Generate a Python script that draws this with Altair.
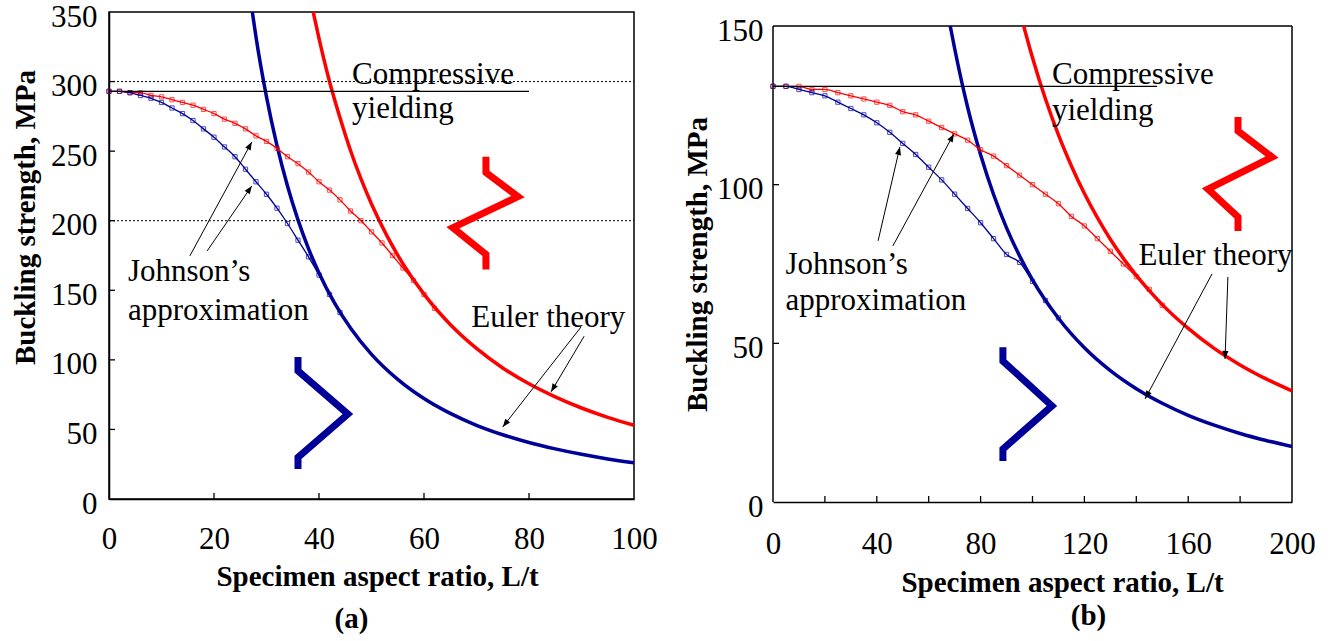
import math
import altair as alt
import pandas as pd

FONT = "Liberation Serif"
RED = "#ff0000"
BLUE = "#000099"

# ---------------- panel (a) data ----------------
A_JR_X = [0, 2, 4, 6, 8, 10, 12, 14, 16, 18, 20, 22, 24, 26, 28, 30, 32, 34, 36, 38,
          40, 42, 44, 46, 48, 50, 52, 54, 56, 58, 60, 62]
A_JR_Y = [293, 293, 292, 292, 290, 289, 287, 285, 283, 280, 277, 273, 270, 266, 261, 257,
          252, 246, 241, 235, 228, 222, 215, 207, 200, 192, 184, 175, 166, 157, 147, 137]
A_JB_X = [0, 2, 4, 6, 8, 10, 12, 14, 16, 18, 20, 22, 24, 26, 28, 30, 32, 34, 36, 38, 40, 42, 44]
A_JB_Y = [293, 293, 292, 290, 288, 285, 281, 277, 272, 266, 260, 253, 246, 237, 228, 219,
          209, 198, 186, 174, 161, 147, 134]
A_ER_X = [38.9, 40, 42, 44, 46, 48, 50, 53, 56, 60, 65, 70, 75, 80, 85, 90, 95, 100]
A_ER_Y = [350, 331, 300, 274, 250.5, 230, 212, 188.7, 169, 147.2, 125.4, 108.2, 94.2, 82.8,
          73.4, 65.4, 58.7, 53]
A_EB_X = [27.3, 28, 30, 32, 34, 36, 38, 40, 43, 46, 50, 55, 60, 65, 70, 75, 80, 85, 90, 95, 100]
A_EB_Y = [350, 332, 289, 254, 225, 200.6, 180, 162.5, 140.6, 122.9, 104, 86, 72.2, 61.5, 53,
          46.2, 40.6, 36, 32.1, 28.8, 26]
A_YIELD = [0, 80, 293]            # x from, x to, stress
A_DOTTED = [300, 200]
A_RED_CHEV_X = [71.8, 71.8, 77.9, 65.5, 71.8, 71.8]
A_RED_CHEV_Y = [246, 234.6, 217.4, 195, 175.8, 165]
A_BLUE_CHEV_X = [36, 36, 45.5, 36, 36]
A_BLUE_CHEV_Y = [102, 92, 61, 30, 21.5]
A_TEXT = ["Compressive", "yielding", "Johnson’s", "approximation", "Euler theory"]
A_TEXT_X = [46.3, 46.3, 3.6, 3.6, 69]
A_TEXT_Y = [305, 280, 163, 135, 130]
A_ARR_X0 = [15.4, 18.7, 89.9, 90.5]
A_ARR_Y0 = [174.7, 178.3, 123.6, 117]
A_ARR_X1 = [27.2, 27.2, 75, 84.2]
A_ARR_Y1 = [256.6, 225, 51.8, 77]
A_XTICKS = [20, 40, 60, 80]
A_YTICKS = [50, 100, 150, 200, 250, 300]
A_XLABELS = [0, 20, 40, 60, 80, 100]
A_YLABELS = [0, 50, 100, 150, 200, 250, 300, 350]

# ---------------- panel (b) data ----------------
B_JR_X = [0, 5, 10, 15, 20, 25, 30, 35, 40, 45, 50, 55, 60, 65, 70, 75, 80, 85, 90, 95,
          100, 105, 110, 115, 120, 125, 130, 135, 140, 145, 150]
B_JR_Y = [131, 131, 131, 130, 130, 129, 128, 127, 126, 125, 123, 122, 120, 118, 116, 114,
          111, 109, 106, 103, 100, 97, 94, 90, 87, 83, 79, 75, 71, 67, 62]
B_JB_X = [0, 5, 10, 15, 20, 25, 30, 35, 40, 45, 50, 55, 60, 65, 70, 75, 80, 85, 90, 95,
          100, 105, 110]
B_JB_Y = [131, 131, 130, 129, 128, 126, 124, 122, 119.5, 116.5, 113, 109.5, 105.5, 101.5,
          97, 92.5, 88, 83, 78, 75.5, 69.5, 63.5, 58]
B_ER_X = [96.6, 100, 105, 110, 115, 120, 125, 130, 135, 140, 145, 150, 160, 170, 180, 190, 200]
B_ER_Y = [150, 140, 127, 115.7, 105.9, 97.2, 89.6, 82.8, 76.8, 71.4, 66.6, 62.2, 54.7, 48.4,
          43.2, 38.8, 35]
B_EB_X = [68.3, 70, 75, 80, 85, 90, 95, 100, 110, 120, 130, 140, 150, 160, 170, 180, 190, 200]
B_EB_Y = [150, 142.9, 124.4, 109.4, 96.9, 86.4, 77.6, 70, 57.9, 48.6, 41.4, 35.7, 31.1, 27.3,
          24.2, 21.6, 19.4, 17.5]
B_YIELD = [0, 148, 131]
B_DOTTED = []
B_RED_CHEV_X = [179.2, 179.2, 192.3, 167.6, 179.2, 179.2]
B_RED_CHEV_Y = [121.3, 116.9, 108.7, 98.6, 89.8, 85.4]
B_BLUE_CHEV_X = [88.6, 88.6, 107.5, 88.6, 88.6]
B_BLUE_CHEV_Y = [48.8, 44.4, 30.3, 16.7, 12.9]
B_TEXT = ["Compressive", "yielding", "Johnson’s", "approximation", "Euler theory"]
B_TEXT_X = [107.5, 107.5, 4.8, 4.8, 140.8]
B_TEXT_Y = [134.6, 123.2, 74.7, 63.3, 77.5]
B_ARR_X0 = [40.5, 46.2, 169.2, 175.3]
B_ARR_Y0 = [82.3, 80.7, 71.9, 70.9]
B_ARR_X1 = [48.9, 69.7, 143.4, 174.2]
B_ARR_Y1 = [111.9, 116, 32.5, 45.1]
B_XTICKS = [20, 40, 60, 80, 100, 120, 140, 160, 180]
B_YTICKS = [50, 100]
B_XLABELS = [0, 40, 80, 120, 160, 200]
B_YLABELS = [0, 50, 100, 150]

ARROW_HEAD = "M0,0L-0.38,1L0.38,1Z"


def seq_df(xs, ys):
    return pd.DataFrame({"x": xs, "y": ys, "i": list(range(len(xs)))})


def panel(cfg):
    W, H = cfg["w"], cfg["h"]
    xdom, ymax = cfg["xdom"], cfg["ymax"]
    # extra headroom above the frame (used to drop panel (b) lower than panel (a))
    extra = cfg.get("extra", 0)
    Htot = H + extra
    ydom = [0, ymax * Htot / H]
    sx = W / (xdom[1] - xdom[0])
    sy = H / ymax

    X = alt.X("x:Q", scale=alt.Scale(domain=xdom, nice=False, zero=False),
              axis=alt.Axis(values=cfg["xlabels"], title="Specimen aspect ratio, L/t",
                            labelBaseline="middle", labelPadding=cfg["xlabpad"],
                            labelFlush=False, labelOverlap=False,
                            titleX=cfg["xtitlex"], titleY=cfg["xtitley"],
                            titleBaseline="middle", titleAlign="center"))
    Y = alt.Y("y:Q", scale=alt.Scale(domain=ydom, nice=False, zero=False),
              axis=alt.Axis(values=cfg["ylabels"], title="Buckling strength, MPa",
                            labelAlign="right", labelBaseline="middle",
                            labelPadding=cfg["ylabpad"], labelOffset=5,
                            labelFlush=False, labelOverlap=False, domain=(extra == 0),
                            titleX=cfg["ytitlex"], titleY=cfg["ytitley"], titleAngle=270,
                            titleBaseline="middle", titleAlign="center"))

    layers = []
    if extra:
        # frame drawn explicitly (left, top, right)
        fr = pd.DataFrame({"x": [xdom[0], xdom[0], xdom[1]], "x2": [xdom[0], xdom[1], xdom[1]],
                           "y": [0, ymax, 0], "y2": [ymax, ymax, ymax]})
        layers.append(alt.Chart(fr).mark_rule(color="black", strokeWidth=1.5)
                      .encode(x=X, x2="x2:Q", y=Y, y2="y2:Q"))
    for xs, ys, col in [(cfg["er_x"], cfg["er_y"], RED), (cfg["eb_x"], cfg["eb_y"], BLUE)]:
        layers.append(alt.Chart(seq_df(xs, ys)).mark_line(
            color=col, strokeWidth=3.5, interpolate="monotone").encode(x=X, y=Y, order="i:Q"))
    for xs, ys, col in [(cfg["jr_x"], cfg["jr_y"], RED), (cfg["jb_x"], cfg["jb_y"], BLUE)]:
        d = seq_df(xs, ys)
        layers.append(alt.Chart(d).mark_line(color=col, strokeWidth=1.3,
                                              interpolate="monotone").encode(x=X, y=Y, order="i:Q"))
        layers.append(alt.Chart(d).mark_point(color=col, shape="square", filled=False,
                                               size=18, strokeWidth=1).encode(x=X, y=Y))
    yl = cfg["yield"]
    layers.append(alt.Chart(pd.DataFrame({"x": [yl[0]], "x2": [yl[1]], "y": [yl[2]]}))
                  .mark_rule(color="black", strokeWidth=1.3)
                  .encode(x=X, x2="x2:Q", y=Y))
    if cfg["dotted"]:
        layers.append(alt.Chart(pd.DataFrame({"y": cfg["dotted"]}))
                      .mark_rule(color="black", strokeWidth=1, strokeDash=[2, 2])
                      .encode(y=Y, x=alt.value(0), x2=alt.value(W)))
    for xs, ys, col in [(cfg["rc_x"], cfg["rc_y"], RED), (cfg["bc_x"], cfg["bc_y"], BLUE)]:
        layers.append(alt.Chart(seq_df(xs, ys)).mark_line(
            color=col, strokeWidth=7, strokeJoin="miter", strokeCap="butt")
            .encode(x=X, y=Y, order="i:Q"))
    layers.append(alt.Chart(pd.DataFrame({"x": cfg["tx"], "y": cfg["ty"], "t": cfg["text"]}))
                  .mark_text(align="left", baseline="middle", font=FONT, fontSize=31,
                             color="black")
                  .encode(x=X, y=Y, text="t:N"))
    ang = []
    for x0, y0, x1, y1 in zip(cfg["ax0"], cfg["ay0"], cfg["ax1"], cfg["ay1"]):
        ang.append(math.degrees(math.atan2((x1 - x0) * sx, (y1 - y0) * sy)) % 360)
    ad = pd.DataFrame({"x": cfg["ax0"], "y": cfg["ay0"], "x1": cfg["ax1"], "y1": cfg["ay1"],
                       "ang": ang})
    layers.append(alt.Chart(ad).mark_rule(color="black", strokeWidth=1)
                  .encode(x=X, y=Y, x2="x1:Q", y2="y1:Q"))
    layers.append(alt.Chart(ad).mark_point(shape=ARROW_HEAD, filled=True, color="black",
                                           size=260, opacity=1)
                  .encode(x=alt.X("x1:Q"), y=alt.Y("y1:Q"),
                          angle=alt.Angle("ang:Q", scale=None)))
    layers.append(alt.Chart(pd.DataFrame({"x": cfg["xticks"]}))
                  .mark_rule(color="black", strokeWidth=1.3)
                  .encode(x=X, y=alt.value(Htot), y2=alt.value(Htot - 6)))
    layers.append(alt.Chart(pd.DataFrame({"y": cfg["yticks"]}))
                  .mark_rule(color="black", strokeWidth=1.3)
                  .encode(y=Y, x=alt.value(0), x2=alt.value(6)))

    props = dict(
        width=W, height=Htot,
        title=alt.TitleParams(cfg["label"], orient="bottom", frame="group", anchor="middle",
                              dx=cfg["labdx"], offset=cfg["laboff"], font=FONT, fontSize=29,
                              fontWeight="bold", color="black"))
    if extra:
        props["view"] = alt.ViewBackground(strokeOpacity=0)
    return alt.layer(*layers).properties(**props)


A = dict(w=525, h=487, xdom=[0, 100], ymax=350,
         xlabels=A_XLABELS, ylabels=A_YLABELS, xticks=A_XTICKS, yticks=A_YTICKS,
         xlabpad=40, ylabpad=12, xtitlex=268, xtitley=77, ytitlex=-84, ytitley=205,
         er_x=A_ER_X, er_y=A_ER_Y, eb_x=A_EB_X, eb_y=A_EB_Y,
         jr_x=A_JR_X, jr_y=A_JR_Y, jb_x=A_JB_X, jb_y=A_JB_Y,
         dotted=A_DOTTED,
         rc_x=A_RED_CHEV_X, rc_y=A_RED_CHEV_Y, bc_x=A_BLUE_CHEV_X, bc_y=A_BLUE_CHEV_Y,
         text=A_TEXT, tx=A_TEXT_X, ty=A_TEXT_Y,
         ax0=A_ARR_X0, ay0=A_ARR_Y0, ax1=A_ARR_X1, ay1=A_ARR_Y1,
         label="(a)", labdx=-20, laboff=14)
A["yield"] = A_YIELD
B = dict(w=519, h=476, extra=14, xdom=[0, 200], ymax=150,
         xlabels=B_XLABELS, ylabels=B_YLABELS, xticks=B_XTICKS, yticks=B_YTICKS,
         xlabpad=42, ylabpad=10, xtitlex=289, xtitley=80, ytitlex=-76, ytitley=252,
         er_x=B_ER_X, er_y=B_ER_Y, eb_x=B_EB_X, eb_y=B_EB_Y,
         jr_x=B_JR_X, jr_y=B_JR_Y, jb_x=B_JB_X, jb_y=B_JB_Y,
         dotted=B_DOTTED,
         rc_x=B_RED_CHEV_X, rc_y=B_RED_CHEV_Y, bc_x=B_BLUE_CHEV_X, bc_y=B_BLUE_CHEV_Y,
         text=B_TEXT, tx=B_TEXT_X, ty=B_TEXT_Y,
         ax0=B_ARR_X0, ay0=B_ARR_Y0, ax1=B_ARR_X1, ay1=B_ARR_Y1,
         label="(b)", labdx=56, laboff=5)
B["yield"] = B_YIELD

chart = alt.hconcat(panel(A), panel(B), spacing=25).properties(
    padding={"left": 10, "top": 0, "right": 0, "bottom": 0},
    background="white"
).configure_view(
    stroke="black", strokeWidth=1.5
).configure_axis(
    domainColor="black", domainWidth=1.5, ticks=False, grid=False,
    labelFont=FONT, labelFontSize=31, labelColor="black",
    titleFont=FONT, titleFontSize=29, titleFontWeight="bold", titleColor="black"
)

chart.save("out.html", embed_options={"renderer": "svg", "actions": False})
